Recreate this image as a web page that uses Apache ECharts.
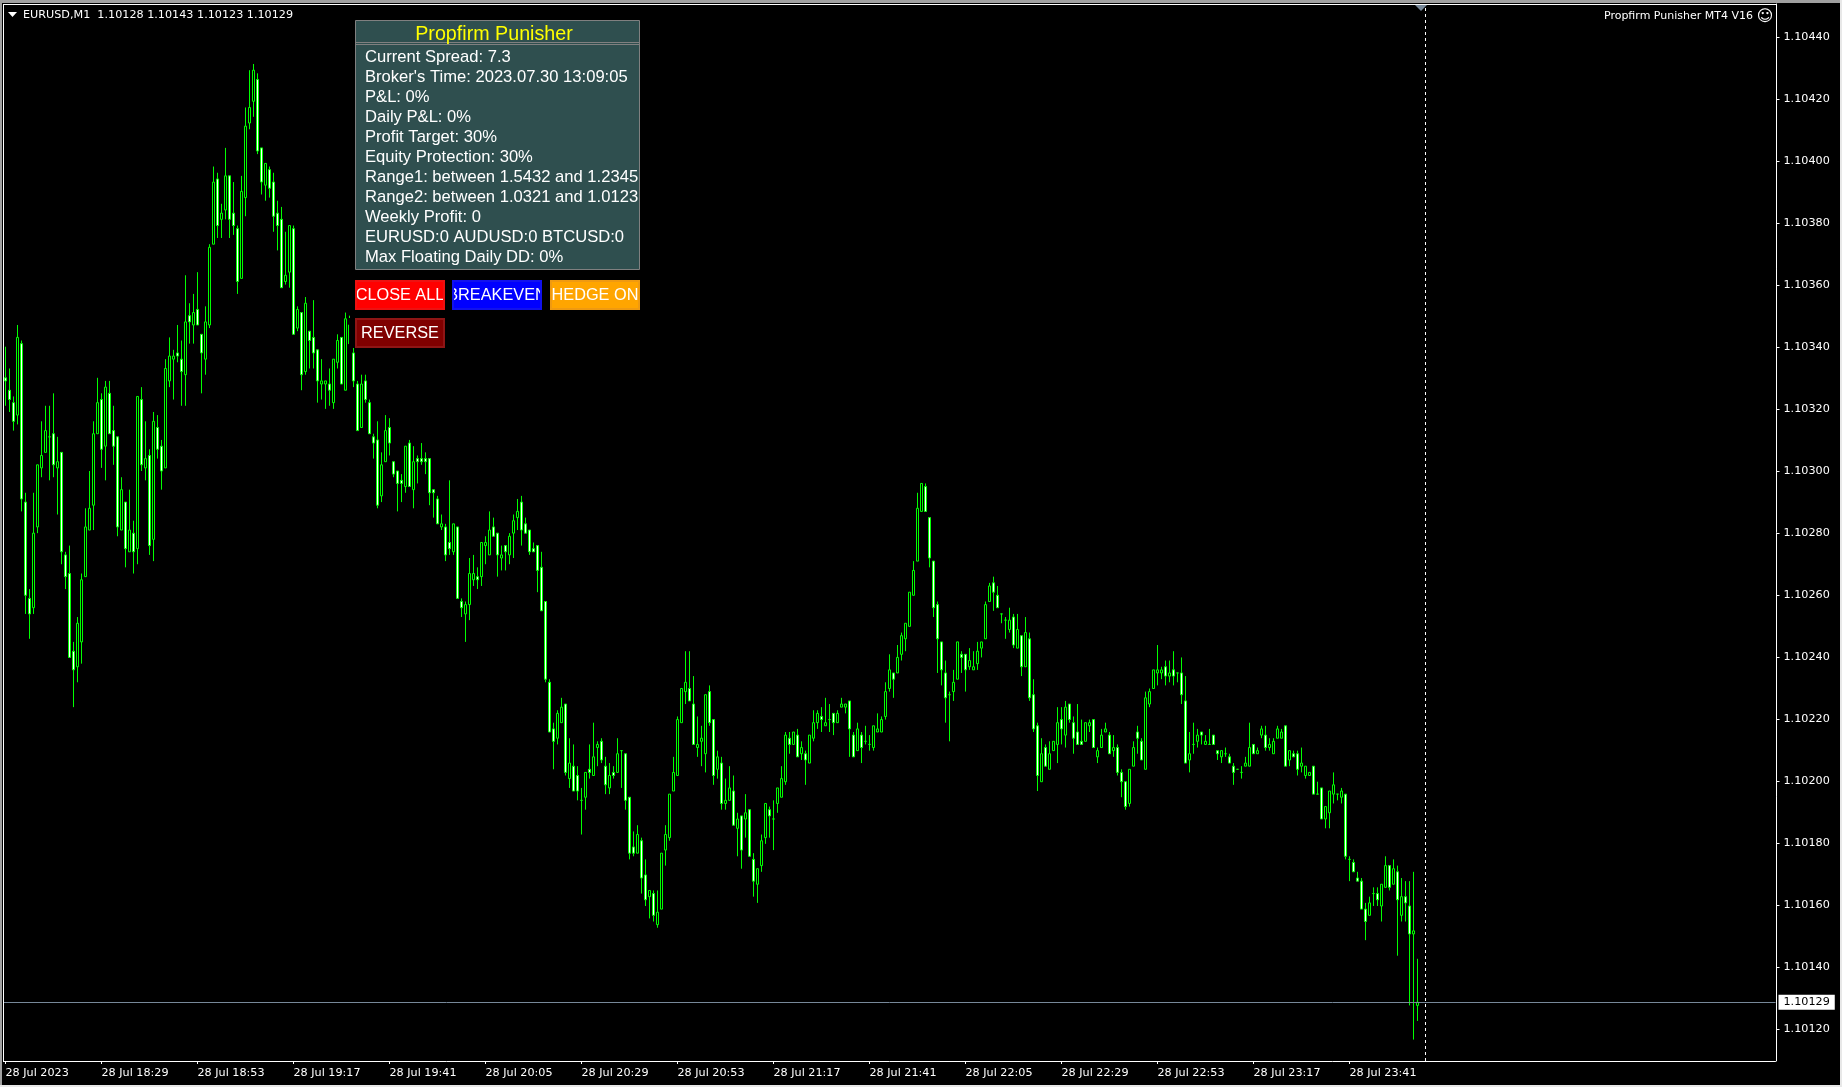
<!DOCTYPE html>
<html><head><meta charset="utf-8">
<script src="https://cdn.jsdelivr.net/npm/echarts@6/dist/echarts.min.js"></script>
<style>html,body{margin:0;padding:0;background:#000;overflow:hidden}#c{width:1842px;height:1087px}</style>
</head><body><div id="c"></div>
<script>
// prices are stored as points above 1.10000 (330 = 1.10330)
const BASE_PRICE = 1.1, POINT = 0.00001;
const opens = [
330,326,322,318,341,290,259,256,282,301,306,311,312,301,306,273,267,242,237,245,
266,281,289,312,323,308,325,313,311,281,290,274,280,275,323,301,305,278,314,308,
301,329,336,338,336,331,350,347,352,344,336,347,373,394,381,384,395,383,378,362,
388,412,419,426,404,392,397,393,383,381,361,364,378,346,351,332,345,343,339,328,
328,328,322,335,343,326,347,338,328,314,329,322,311,310,292,303,314,303,300,297,
295,309,294,304,304,304,304,294,291,282,282,277,274,282,258,254,257,265,266,266,
276,273,282,280,272,276,273,280,285,290,283,281,275,276,269,258,232,217,214,219,
225,201,205,202,194,195,204,202,211,213,205,198,203,203,210,209,195,179,177,181,
170,163,164,154,159,178,182,197,202,219,229,230,225,211,213,209,229,220,204,206,
193,194,197,185,189,188,191,175,167,173,182,191,188,193,195,200,214,212,215,209,
209,206,214,219,221,218,220,222,219,224,224,226,215,210,215,213,212,211,216,216,
221,230,235,235,241,246,250,260,271,287,295,285,271,257,245,235,228,229,233,241,
241,237,236,238,243,246,258,264,260,254,252,249,253,243,247,237,246,228,218,200,
211,204,210,212,220,215,225,219,216,213,213,218,220,208,211,216,215,210,211,203,
200,193,205,216,213,204,225,230,235,235,237,234,236,235,235,226,207,212,213,216,
212,212,215,210,208,209,208,205,204,203,205,205,212,209,215,215,211,209,214,214,
218,207,209,209,205,202,202,205,196,198,188,190,196,196,195,196,175,174,169,168,
159,157,164,164,160,166,173,167,171,157,163,160,151,128];
const closes = [
329,323,316,343,291,260,254,280,302,305,313,311,302,303,274,266,240,236,251,265,
282,288,312,322,307,327,312,308,282,294,275,281,274,324,302,304,276,316,307,300,
333,337,337,337,332,348,348,351,347,338,348,372,393,379,383,395,381,379,361,390,
411,417,429,403,393,399,391,382,379,359,363,379,344,352,331,354,342,338,329,329,
329,326,336,342,328,349,341,329,313,328,323,312,309,289,302,313,309,299,296,296,
308,295,303,303,303,303,293,293,283,283,273,275,283,259,256,257,267,267,265,277,
277,281,279,273,273,274,279,284,287,281,280,274,274,268,255,233,216,213,222,224,
203,206,197,197,194,203,203,208,212,207,199,202,202,209,210,194,177,177,183,169,
162,165,157,158,177,183,196,203,220,230,232,226,212,212,214,228,219,202,208,193,
194,198,186,188,178,190,176,168,172,181,193,189,188,198,201,215,212,216,208,211,
207,215,219,222,220,219,220,219,222,225,225,217,208,217,211,213,212,218,217,220,
229,236,233,240,247,251,261,268,288,296,287,272,256,246,236,227,228,232,245,240,
236,239,237,242,245,257,263,261,256,254,252,252,244,249,237,248,227,217,202,209,
205,209,213,219,217,224,220,214,212,212,219,219,211,210,215,217,209,211,203,200,
192,204,211,214,207,227,229,236,236,236,234,235,234,235,228,206,209,212,215,215,
213,212,212,209,210,209,206,203,204,203,206,211,209,210,217,211,212,213,217,216,
205,210,208,204,206,205,203,196,196,188,192,197,199,196,197,176,175,171,168,159,
155,161,164,162,167,173,166,172,162,163,161,151,152,129];
const lows = [
321,319,313,315,287,254,246,254,280,298,306,297,298,286,270,262,240,224,232,238,
266,281,281,312,301,297,312,302,279,281,269,274,267,270,300,297,273,271,304,294,
301,327,323,335,321,321,341,341,347,325,331,346,373,375,375,381,375,376,357,362,
382,410,414,402,389,387,388,377,371,359,360,359,344,345,326,331,333,333,322,323,
320,321,320,333,328,326,340,327,313,314,322,312,304,288,290,303,305,298,287,290,
293,295,288,296,302,299,289,285,283,281,271,273,273,259,253,245,252,263,262,263,
270,273,279,266,268,268,270,272,281,276,280,273,274,261,255,232,216,204,212,219,
202,198,197,194,183,191,201,202,205,206,196,196,201,203,198,191,175,176,177,164,
160,156,155,153,159,173,181,197,202,219,225,226,212,208,205,203,218,199,201,191,
191,194,186,176,172,182,176,163,161,171,180,182,178,190,195,199,209,212,208,207,
199,206,213,217,216,218,216,215,219,224,222,208,208,210,206,212,210,210,216,216,
220,229,227,235,239,242,250,260,271,287,287,269,253,235,231,219,213,226,233,235,
229,236,236,236,240,246,258,255,256,251,246,248,243,243,234,237,226,216,197,200,
205,204,210,206,212,211,219,209,212,212,213,216,211,206,211,216,209,208,202,195,
191,192,205,209,207,204,224,230,231,233,231,232,231,232,225,206,203,209,211,212,
212,212,212,207,206,208,206,199,204,201,205,205,209,209,214,210,210,209,214,214,
205,205,208,202,203,201,202,196,196,188,185,185,193,194,193,175,168,171,168,159,
149,157,160,160,155,166,165,167,144,155,155,128,117,123];
const highs = [
340,333,324,347,342,293,262,293,302,316,321,321,325,311,306,274,276,245,253,267,
288,300,316,330,325,329,329,321,311,298,290,294,284,324,327,316,307,319,318,310,
336,343,339,347,342,363,354,357,364,344,353,373,398,396,386,404,395,393,379,395,
417,429,431,428,404,399,398,396,387,385,377,379,379,353,351,356,345,355,339,336,
329,333,336,344,343,351,350,340,329,331,331,323,312,316,306,318,317,303,300,299,
308,310,308,305,309,306,304,294,292,286,283,297,283,282,259,258,272,273,269,277,
279,287,285,280,276,276,280,286,291,292,285,281,277,276,274,258,233,219,223,227,
225,214,212,205,198,203,212,219,213,214,208,206,205,214,210,209,195,184,186,182,
175,165,165,165,177,186,196,208,221,230,242,242,234,221,218,228,231,220,210,208,
201,205,202,190,189,196,191,177,172,183,193,192,194,198,205,216,216,216,217,213,
210,215,223,223,224,227,225,222,223,227,225,226,216,219,216,218,215,218,222,221,
232,241,235,244,248,251,261,271,293,296,296,285,271,258,245,239,229,236,245,242,
241,243,242,245,245,258,264,266,263,254,253,256,254,254,247,253,248,233,219,214,
212,213,213,224,224,226,225,221,225,220,219,220,220,211,217,219,216,215,212,204,
200,204,213,218,214,229,230,236,244,237,239,239,242,235,240,234,216,219,217,216,
215,217,215,210,210,211,209,206,204,205,208,219,212,211,218,218,214,214,218,217,
218,210,210,210,211,205,203,205,200,198,192,197,203,196,198,196,176,175,171,169,
161,163,166,166,167,176,173,175,173,169,168,168,171,143];
const timeTicks = ['28 Jul 2023','28 Jul 18:29','28 Jul 18:53','28 Jul 19:17','28 Jul 19:41','28 Jul 20:05','28 Jul 20:29','28 Jul 20:53','28 Jul 21:17','28 Jul 21:41','28 Jul 22:05','28 Jul 22:29','28 Jul 22:53','28 Jul 23:17','28 Jul 23:41'];
const priceTicks = [1.1012,1.1014,1.1016,1.1018,1.102,1.1022,1.1024,1.1026,1.1028,1.103,1.1032,1.1034,1.1036,1.1038,1.104,1.1042,1.1044];
const currentPrice = 1.10129;
const separatorBar = 355;
const barsPerTick = 24, totalSlots = 443;
const axisMin = 1.1011011, axisMax = 1.1045031;
const labelAxisMin = 1.1010964, labelAxisMax = 1.1045075;
const headerText = 'EURUSD,M1  1.10128 1.10143 1.10123 1.10129';
const expertText = 'Propfirm Punisher MT4 V16';
const panelTitle = 'Propfirm Punisher';
const panelLines = ['Current Spread: 7.3',"Broker's Time: 2023.07.30 13:09:05",'P&L: 0%','Daily P&L: 0%','Profit Target: 30%','Equity Protection: 30%','Range1: between 1.5432 and 1.2345','Range2: between 1.0321 and 1.0123','Weekly Profit: 0','EURUSD:0 AUDUSD:0 BTCUSD:0','Max Floating Daily DD: 0%'];

const price = p => +(BASE_PRICE + p * POINT).toFixed(5);
const categories = Array.from({length: totalSlots}, (_, i) => (i % barsPerTick === 0 && timeTicks[i / barsPerTick]) || '');
const candles = opens.map((o, i) => [price(o), price(closes[i]), price(lows[i]), price(highs[i])]);
const isTick = i => i % barsPerTick === 0 && i / barsPerTick < timeTicks.length;

const UI = '"DejaVu Sans"';
const PANEL = '"Liberation Sans"';
const WHITE = '#ffffff';
const graphics = [];
const rect = (x, y, w, h, fill, stroke, z) => graphics.push({type:'rect', silent:true, z:z||10, shape:{x, y, width:w, height:h}, style:{fill, stroke:stroke||null, lineWidth:stroke?1:0}});
const text = (x, y, t, fill, font, align, z) => graphics.push({type:'text', silent:true, z:z||12, x, y, style:{text:t, fill, font, align:align||'left', verticalAlign:'middle'}});

// window edge
rect(0, 0, 1842, 3, '#a0a0a0');
rect(0, 0, 2, 1087, '#a0a0a0');
rect(1840, 0, 2, 1087, '#e8e8e8');
rect(0, 1085, 1842, 2, '#e8e8e8');
rect(3, 4, 1774, 1, WHITE);
rect(3, 4, 1, 1058, WHITE);
// chart shift marker
graphics.push({type:'polygon', silent:true, z:11, shape:{points:[[1415,5],[1427,5],[1421,11]]}, style:{fill:'#778899'}});

// header
graphics.push({type:'polygon', silent:true, z:11, shape:{points:[[8,12],[17,12],[12.5,17]]}, style:{fill:WHITE}});
text(23, 15, headerText, WHITE, '11.2px '+UI);
text(1753, 16, expertText, WHITE, '11px '+UI, 'right');
text(1765, 17, '\u263A', WHITE, '16px '+UI, 'center');

// info panel
rect(355.5, 20.5, 284, 249, '#2f4f4f', '#808080');
rect(355, 42, 285, 1, '#808080');
rect(355, 44, 285, 1, '#808080');
text(494, 35, panelTitle, '#ffff00', '19.7px '+PANEL, 'center');
panelLines.forEach((l, i) => text(365, 57 + i * 20, l, WHITE, '16.6px '+PANEL));

// buttons
const button = (x, y, w, h, fill, edge, label) => {
  rect(x, y, w, h, fill);
  text(x + w / 2, y + h / 2 + 0.5, label, WHITE, '16.3px '+PANEL, 'center', 13);
  rect(x - 6, y, 6, h, '#000', null, 14);
  rect(x + w, y, 6, h, '#000', null, 14);
  rect(x, y, w, 2, edge, null, 15);
  rect(x, y + h - 2, w, 2, edge, null, 15);
  rect(x, y, 2, h, edge, null, 15);
  rect(x + w - 2, y, 2, h, edge, null, 15);
};
button(355, 280, 90, 30, '#ff0000', '#ee1111', 'CLOSE ALL');
button(452, 280, 90, 30, '#0000ff', '#1111ee', 'BREAKEVEN');
button(550, 280, 90, 30, '#ffa500', '#f09a10', 'HEDGE ON');
button(355, 318, 90, 30, '#800000', '#8f1515', 'REVERSE');

const chart = echarts.init(document.getElementById('c'), null, {renderer:'canvas'});
chart.setOption({
  animation:false,
  backgroundColor:'#000',
  grid:{left:3.5, top:4, width:1772, height:1057, containLabel:false},
  xAxis:{
    type:'category', data:categories, boundaryGap:true,
    axisLine:{show:true, onZero:false, lineStyle:{color:WHITE, width:1}},
    axisTick:{show:true, alignWithLabel:true, length:3, interval:isTick, lineStyle:{color:WHITE}},
    axisLabel:{show:true, interval:isTick, align:'left', margin:7, color:WHITE, fontSize:11.2, fontFamily:'DejaVu Sans', hideOverlap:false},
    splitLine:{show:false}
  },
  yAxis:[{
    type:'value', position:'right', offset:1, scale:true,
    min:axisMin, max:axisMax,
    axisLine:{show:true, lineStyle:{color:WHITE, width:1}},
    axisTick:{show:false},
    axisLabel:{show:false},
    splitLine:{show:false}
  },{
    type:'value', position:'right', offset:1, scale:true,
    min:labelAxisMin, max:labelAxisMax,
    axisLine:{show:false},
    axisTick:{show:true, length:3, customValues:priceTicks, lineStyle:{color:WHITE}},
    axisLabel:{show:true, customValues:priceTicks, margin:7, padding:[3,0,0,0], color:WHITE, fontSize:11.2, fontFamily:'DejaVu Sans', formatter:v => v.toFixed(5)},
    splitLine:{show:false}
  }],
  series:[{
    type:'candlestick', yAxisIndex:0, data:candles, barWidth:2, clip:true, progressive:0, large:false, silent:true,
    itemStyle:{color:'#000000', color0:'#ffffff', borderColor:'#00ff00', borderColor0:'#00ff00', borderColorDoji:'#00ff00', borderWidth:1},
    markLine:{
      silent:true, symbol:'none', animation:false, precision:5,
      data:[
        {yAxis:currentPrice, lineStyle:{color:'#778899', type:'solid', width:1},
         label:{show:true, position:'end', distance:3, formatter:() => currentPrice.toFixed(5), color:'#000', backgroundColor:'#fff', fontSize:11.2, fontFamily:'DejaVu Sans', padding:[3,5,1,5]}},
        {xAxis:separatorBar, lineStyle:{color:WHITE, type:[3,3], width:1}, label:{show:false}}
      ]
    }
  }],
  graphic:graphics
});
</script></body></html>
